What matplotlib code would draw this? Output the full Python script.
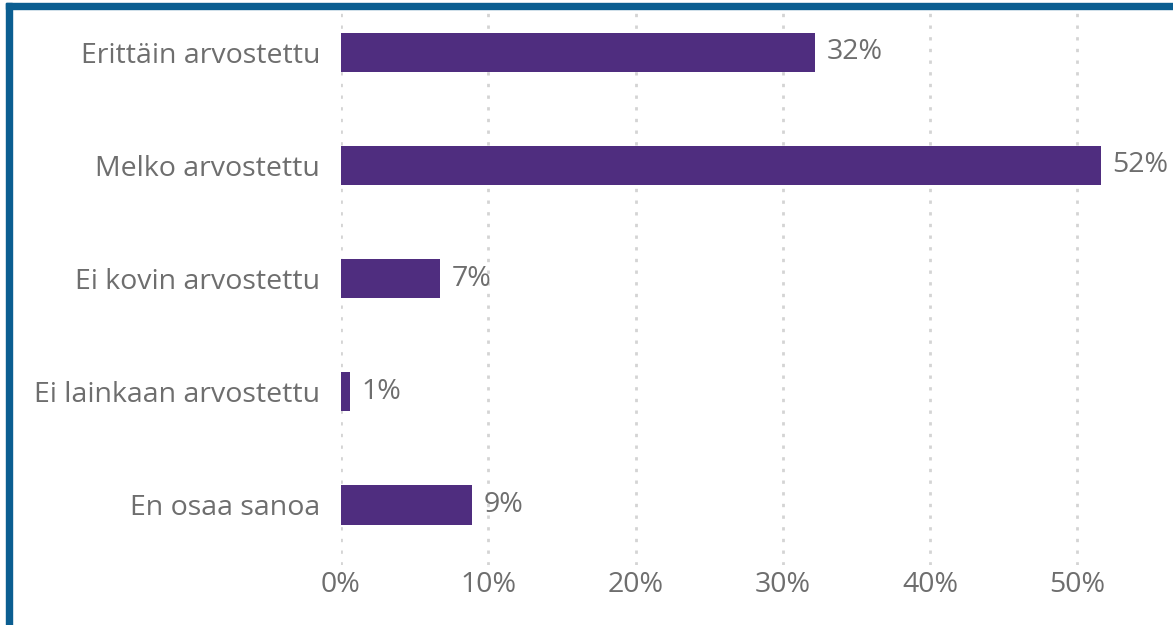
import matplotlib
matplotlib.use("Agg")
import matplotlib.pyplot as plt
from matplotlib.patches import Rectangle

categories = ["Erittäin arvostettu", "Melko arvostettu", "Ei kovin arvostettu",
              "Ei lainkaan arvostettu", "En osaa sanoa"]
values = [32.2, 51.6, 6.7, 0.6, 8.9]
tick_values = [0, 10, 20, 30, 40, 50]
tick_labels = ["0%", "10%", "20%", "30%", "40%", "50%"]

plt.rcParams['font.family'] = ['Open Sans', 'DejaVu Sans']
text_color = "#6e6e6e"
bar_color = "#4f2d7f"
fs = 20.5

fig = plt.figure(figsize=(11.73, 6.25), dpi=100)
ax = fig.add_axes([341/1173, 1-565/625, 1-341/1173, 555/625])

y = list(range(len(categories)))
ax.barh(y, values, height=0.345, color=bar_color, zorder=3)
for yi, v in zip(y, values):
    ax.text(v + 0.8, yi, f"{round(v)}%", va="center", ha="left",
            fontsize=fs, color=text_color, zorder=4)

ax.set_xlim(0, 56.5)
ax.set_ylim(4.53, -0.372)
ax.set_yticks(y)
ax.set_yticklabels(categories, fontsize=fs, color=text_color)
ax.set_xticks(tick_values)
ax.set_xticklabels(tick_labels, fontsize=fs, color=text_color)
ax.tick_params(axis="both", length=0)
ax.tick_params(axis="y", pad=15)
ax.tick_params(axis="x", pad=4)
ax.xaxis.grid(True, linestyle=(0, (1.2, 3.0)), color="#d4d4d4", linewidth=2.0, zorder=0)
ax.yaxis.grid(False)
for s in ax.spines.values():
    s.set_visible(False)

# frame border (top and left)
fig.patches.append(Rectangle((6/1173, 0), 6/1173, 1 - 3/625, transform=fig.transFigure,
                             color="#0b5e91", zorder=10))
fig.patches.append(Rectangle((6/1173, 1 - 9/625), 1, 6/625, transform=fig.transFigure,
                             color="#0b5e91", zorder=10))

fig.savefig("out.png", dpi=100)
